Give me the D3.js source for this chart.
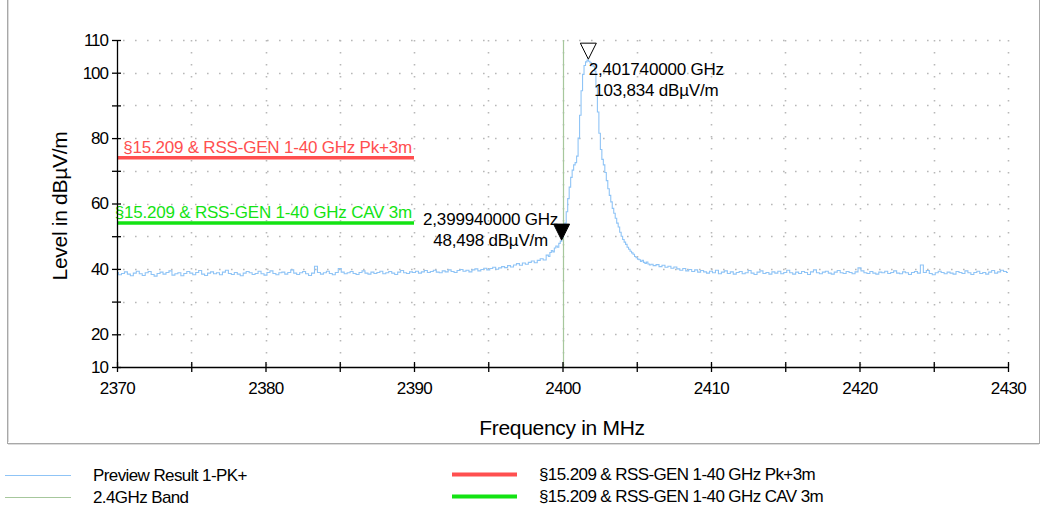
<!DOCTYPE html>
<html>
<head>
<meta charset="utf-8">
<script src="https://cdn.jsdelivr.net/npm/d3@7"></script>
<style>
  html, body { margin: 0; padding: 0; background: #ffffff; }
  svg { display: block; font-family: "Liberation Sans", Arial, sans-serif; }
</style>
</head>
<body>
<svg id="chart" width="1046" height="511"></svg>
<script>
// ---------- DATA ----------
const xDomain = [2370, 2430];
const yDomain = [10, 110];
const xTicksLabeled = [2370, 2380, 2390, 2400, 2410, 2420, 2430];
const xTicksAll = [2370, 2375, 2380, 2385, 2390, 2395, 2400, 2405, 2410, 2415, 2420, 2425, 2430];
const yTicksAll = [10, 20, 30, 40, 50, 60, 70, 80, 90, 100, 110];
const yTicksLabeled = [10, 20, 40, 60, 80, 100, 110];
const yGrid = [20, 30, 40, 50, 60, 70, 80, 90, 100, 110];
const xGrid = [2375, 2380, 2385, 2390, 2395, 2400, 2405, 2410, 2415, 2420, 2425, 2430];

// Preview Result 1-PK+ trace (dBµV/m), three sweep segments
const leftStart = 2370.0, leftStep = 0.2;
const traceLeft = [
  38.9, 38.2, 38.6, 39.1, 38.4, 37.9, 38.7, 39.3, 38.5, 38.0,
  38.8, 39.2, 38.3, 37.8, 38.6, 39.0, 38.4, 38.9, 39.4, 38.1,
  38.5, 38.8, 37.9, 38.6, 39.2, 38.7, 38.2, 38.9, 39.5, 38.4,
  38.0, 38.7, 39.1, 38.5, 38.8, 38.2, 39.0, 39.6, 38.6, 38.3,
  38.9, 38.4, 37.9, 38.7, 39.2, 38.8, 38.3, 38.6, 39.3, 38.5,
  38.1, 38.9, 39.4, 38.6, 38.2, 38.8, 39.0, 38.4, 38.9, 39.7,
  38.7, 38.3, 38.8, 39.2, 38.5, 38.0, 38.7, 40.8, 38.9, 38.4,
  38.8, 39.3, 38.6, 38.2, 38.9, 40.1, 39.0, 38.5, 38.8, 39.2,
  38.6, 38.3, 38.9, 39.4, 38.7, 38.4, 39.0, 38.6, 38.9, 39.3,
  38.5, 38.8, 39.2, 38.7, 38.3, 39.0, 39.5, 38.8, 38.6, 39.1,
  38.9, 39.3, 38.7, 39.1, 39.5, 38.9, 39.2, 39.6, 39.0, 38.8,
  39.4, 39.1, 39.7, 39.2, 38.9, 39.5, 39.8, 39.3, 39.6, 39.1,
  39.7, 40.0, 39.4, 39.8, 40.2, 39.7, 40.1, 40.5, 39.9, 40.3,
  40.7, 40.4, 41.0, 40.6, 41.2, 41.6, 41.1, 41.8, 41.4, 42.0,
  42.4, 41.9, 42.6, 43.1, 42.7
];
const peakStart = 2399.0, peakStep = 0.1;
const tracePeak = [
  44.2, 43.8, 45.0, 45.6, 45.2, 46.4, 47.0, 46.6, 47.8, 48.5,
  49.6, 51.5, 54.0, 57.5, 61.5, 65.0, 68.0, 70.2, 71.8, 72.5,
  74.5, 80.0, 87.0, 94.5, 99.5, 102.2, 103.3, 103.834, 103.5, 103.0,
  102.6, 102.0, 100.5, 95.5, 88.0, 81.5, 76.5, 73.5, 71.8, 69.5,
  67.0, 64.5, 62.5, 60.5, 58.5, 57.0, 55.5, 54.0, 52.8, 51.2,
  50.0, 49.0, 48.2, 47.5, 46.6, 46.0, 45.4, 44.9, 44.5, 43.8,
  43.4, 43.0, 42.8, 42.3, 42.6, 42.0, 41.7, 42.1, 41.5, 41.2
];
const rightStart = 2406.0, rightStep = 0.2;
const traceRight = [
  41.4, 41.0, 41.3, 40.7, 41.1, 40.5, 40.8, 40.2, 40.6, 40.0,
  39.6, 40.1, 39.4, 39.8, 39.2, 39.7, 39.0, 39.5, 39.1, 38.7,
  39.3, 38.8, 39.6, 38.5, 39.0, 39.4, 38.6, 39.1, 38.4, 38.9,
  39.2, 38.5, 38.8, 39.5, 38.7, 38.3, 39.0, 39.4, 38.6, 38.9,
  38.4, 39.1, 38.7, 39.3, 38.5, 38.9, 39.6, 38.8, 38.4, 39.0,
  38.6, 39.2, 38.9, 38.3, 39.1, 39.7, 38.8, 38.5, 39.0, 39.3,
  38.7, 38.4, 39.0, 39.5, 38.8, 38.6, 39.2, 38.9, 38.5, 39.1,
  40.3, 39.4, 38.8, 38.6, 39.2, 38.7, 38.4, 39.0, 38.8, 39.3,
  38.6, 38.9, 39.4, 38.7, 38.5, 39.1, 38.8, 38.3, 38.9, 39.2,
  38.7, 41.2, 38.9, 39.5, 38.6, 38.2, 38.8, 39.3, 38.9, 38.5,
  39.0, 38.7, 38.4, 39.2, 38.9, 38.6, 39.4, 38.8, 38.3, 38.9,
  39.3, 38.6, 38.9, 38.4, 39.0, 39.5, 38.7, 39.1, 39.6, 39.2,
  38.9
];

// Limit lines
const limitNames = ["§15.209 & RSS-GEN 1-40 GHz Pk+3m", "§15.209 & RSS-GEN 1-40 GHz CAV 3m"];
const limitLevels = [74, 54];
const limitRange = [2370, 2390];

// 2.4 GHz band edge
const bandFreq = 2400;

// Markers
const markerFreqs = [2401.74, 2399.94];
const markerLevels = [103.834, 48.498];
const markerFreqText = ["2,401740000 GHz", "2,399940000 GHz"];
const markerLevelText = ["103,834 dBµV/m", "48,498 dBµV/m"];

// Legend
const legendLabels = ["Preview Result 1-PK+", "2.4GHz Band", "§15.209 & RSS-GEN 1-40 GHz Pk+3m", "§15.209 & RSS-GEN 1-40 GHz CAV 3m"];

// ---------- STYLE ----------
const C = {
  trace: "#8fc4f6",
  band: "#a6c79c",
  red: "#ff4f4f",
  green: "#13e313",
  grid: "#b8b8b8",
  axis: "#000000",
  text: "#000000"
};

const svg = d3.select("#chart");
const x = d3.scaleLinear().domain(xDomain).range([117, 1008]);
const y = d3.scaleLinear().domain(yDomain).range([367, 40]);

// outer frame
svg.append("rect").attr("x", 7.5).attr("y", -5).attr("width", 1032).attr("height", 448.5)
  .attr("fill", "none").attr("stroke", "#a8a8a8").attr("stroke-width", 1);
svg.append("line").attr("x1", 8.5).attr("x2", 8.5).attr("y1", 0).attr("y2", 442)
  .attr("stroke", "#dcdcdc").attr("stroke-width", 1);
svg.append("line").attr("x1", 8).attr("x2", 1039).attr("y1", 444.5).attr("y2", 444.5)
  .attr("stroke", "#dcdcdc").attr("stroke-width", 1);

// grid
const grid = svg.append("g");
grid.selectAll("line.h").data(yGrid).enter().append("line")
  .attr("x1", x(xDomain[0]) + 6).attr("x2", x(xDomain[1]))
  .attr("y1", d => Math.round(y(d)) + 0.5).attr("y2", d => Math.round(y(d)) + 0.5)
  .attr("stroke", C.grid).attr("stroke-width", 1.6).attr("stroke-dasharray", "1.6,10.4");
grid.selectAll("line.v").data(xGrid).enter().append("line")
  .attr("x1", d => Math.round(x(d)) + 0.5).attr("x2", d => Math.round(x(d)) + 0.5)
  .attr("y1", y(yDomain[1])).attr("y2", y(yDomain[0]))
  .attr("stroke", C.grid).attr("stroke-width", 1.6).attr("stroke-dasharray", "1.6,10.4");

// band line
svg.append("line")
  .attr("x1", Math.round(x(bandFreq)) + 0.5).attr("x2", Math.round(x(bandFreq)) + 0.5)
  .attr("y1", y(yDomain[1])).attr("y2", y(yDomain[0]))
  .attr("stroke", C.band).attr("stroke-width", 1.2);

// limit lines
const limitColors = [C.red, C.green];
limitLevels.forEach((lv, i) => {
  svg.append("line")
    .attr("x1", x(limitRange[0])).attr("x2", x(limitRange[1]))
    .attr("y1", y(lv)).attr("y2", y(lv))
    .attr("stroke", limitColors[i]).attr("stroke-width", 3.5);
  svg.append("text")
    .attr("x", x(limitRange[1]) - 2).attr("y", y(lv) - 5)
    .attr("text-anchor", "end").attr("font-size", 17).attr("letter-spacing", -0.2)
    .attr("fill", limitColors[i]).text(limitNames[i]);
});

// trace
const pts = [];
traceLeft.forEach((v, i) => pts.push([leftStart + i * leftStep, v]));
tracePeak.forEach((v, i) => pts.push([peakStart + i * peakStep, v]));
traceRight.forEach((v, i) => pts.push([rightStart + i * rightStep, v]));
const line = d3.line().x(d => x(d[0])).y(d => y(d[1])).curve(d3.curveStep);
svg.append("path").datum(pts).attr("d", line)
  .attr("fill", "none").attr("stroke", C.trace).attr("stroke-width", 1.1);

// axes
const yAxis = d3.axisLeft(y).tickValues(yTicksAll).tickSize(0)
  .tickFormat(d => yTicksLabeled.includes(d) ? d : "");
const gy = svg.append("g").attr("transform", `translate(${x(xDomain[0])},0)`).call(yAxis);
gy.select(".domain").attr("stroke", C.axis).attr("stroke-width", 1.3);
gy.selectAll(".tick text").attr("x", -9).attr("font-size", 17).attr("letter-spacing", -1)
  .attr("font-family", "Liberation Sans, Arial, sans-serif").attr("fill", C.text);
gy.selectAll(".tick").append("line").attr("x1", -5).attr("x2", 4).attr("stroke", C.axis).attr("stroke-width", 1.3);

const xAxis = d3.axisBottom(x).tickValues(xTicksAll).tickSize(0)
  .tickFormat(d => xTicksLabeled.includes(d) ? d : "");
const gx = svg.append("g").attr("transform", `translate(0,${y(yDomain[0])})`).call(xAxis);
gx.select(".domain").attr("stroke", C.axis).attr("stroke-width", 1.3);
gx.selectAll(".tick text").attr("y", 15).attr("font-size", 17).attr("letter-spacing", -0.6)
  .attr("font-family", "Liberation Sans, Arial, sans-serif").attr("fill", C.text);
gx.selectAll(".tick").append("line").attr("y1", -5).attr("y2", 5).attr("stroke", C.axis).attr("stroke-width", 1.3);

// axis titles
svg.append("text").attr("x", 562).attr("y", 435).attr("text-anchor", "middle")
  .attr("font-size", 21).attr("letter-spacing", -0.3).attr("fill", C.text).text("Frequency in MHz");
svg.append("text").attr("transform", "translate(67,206) rotate(-90)").attr("text-anchor", "middle")
  .attr("font-size", 21).attr("letter-spacing", -0.3).attr("fill", C.text).text("Level in dBµV/m");

// markers
const labelDx = [68, -71];
const labelDy1 = [15, -16];
markerFreqs.forEach((f, i) => {
  const mx = x(f), my = y(markerLevels[i]);
  const tri = `M${mx - 8},${my - 17} L${mx + 8},${my - 17} L${mx},${my - 1} Z`;
  svg.append("path").attr("d", tri)
    .attr("fill", i === 0 ? "#ffffff" : "#000000")
    .attr("stroke", "#000000").attr("stroke-width", 1);
  svg.append("text").attr("x", mx + labelDx[i]).attr("y", my + labelDy1[i])
    .attr("text-anchor", "middle").attr("font-size", 17).attr("letter-spacing", -0.2)
    .attr("fill", C.text).text(markerFreqText[i]);
  svg.append("text").attr("x", mx + labelDx[i]).attr("y", my + labelDy1[i] + 21)
    .attr("text-anchor", "middle").attr("font-size", 17).attr("letter-spacing", -0.2)
    .attr("fill", C.text).text(markerLevelText[i]);
});

// legend
const legendColors = [C.trace, C.band, C.red, C.green];
const legendWidths = [1, 1, 4, 4];
const legendPos = [[5, 71, 93, 475], [5, 71, 93, 497], [452, 517, 539, 474], [452, 517, 539, 496]];
legendLabels.forEach((lab, i) => {
  const p = legendPos[i];
  svg.append("line").attr("x1", p[0]).attr("x2", p[1]).attr("y1", p[3] + 0.5).attr("y2", p[3] + 0.5)
    .attr("stroke", legendColors[i]).attr("stroke-width", legendWidths[i]);
  svg.append("text").attr("x", p[2]).attr("y", p[3] + 6).attr("font-size", 17)
    .attr("letter-spacing", -0.6).attr("fill", C.text).text(lab);
});
</script>
</body>
</html>
